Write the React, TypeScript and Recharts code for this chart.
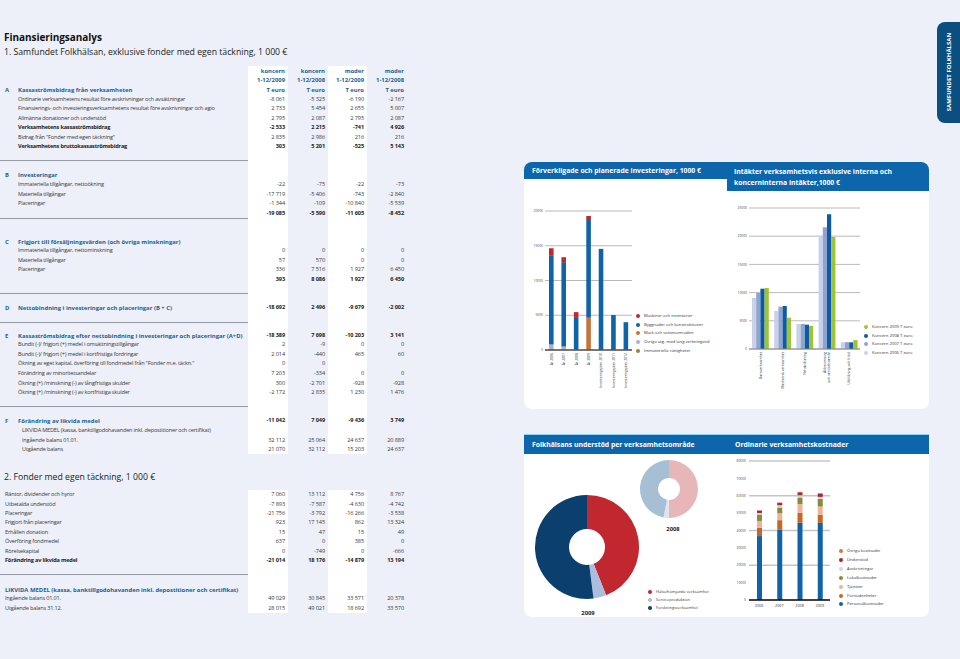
import React from 'react';
import { BarChart, Bar, XAxis, YAxis, CartesianGrid, PieChart, Pie, Cell } from 'recharts';

const BG = '#edf0f8';
const HEAD_BLUE = '#1d5f8f';
const BAR_BLUE = '#0d66ab';
const TAB_BLUE = '#0b4f80';
const TXT = '#3a3a3a';
const FONT = '"Open Sans", "Noto Sans", sans-serif';

// ---------- table data ----------
const colHeads1 = ['koncern', 'koncern', 'moder', 'moder'];
const colHeads2 = ['1-12/2009', '1-12/2008', '1-12/2009', '1-12/2008'];
const colHeads3 = ['T euro', 'T euro', 'T euro', 'T euro'];

const aLabels = [
  'Ordinarie verksamhetens resultat före avskrivningar och avsättningar',
  'Finansierings- och investeringsverksamhetens resultat före avskrivningar och agio',
  'Allmänna donationer och understöd',
  'Verksamhetens kassaströmsbidrag',
  'Bidrag från "Fonder med egen täckning"',
  'Verksamhetens bruttokassaströmsbidrag',
];
const aBold = [false, false, false, true, false, true];
const aValues = [
  ['-8 061', '-5 325', '-6 190', '-2 167'],
  ['2 733', '5 454', '2 655', '5 007'],
  ['2 795', '2 087', '2 795', '2 087'],
  ['-2 533', '2 215', '-741', '4 926'],
  ['2 835', '2 986', '216', '216'],
  ['303', '5 201', '-525', '5 143'],
];

const bLabels = ['Immateriella tillgångar, nettoökning', 'Materiella tillgångar', 'Placeringar', ''];
const bValues = [
  ['-22', '-75', '-22', '-73'],
  ['-17 719', '-5 406', '-743', '-2 840'],
  ['-1 344', '-109', '-10 840', '-5 539'],
  ['-19 085', '-5 590', '-11 605', '-8 452'],
];
const cLabels = ['Immateriella tillgångar, nettominskning', 'Materiella tillgångar', 'Placeringar', ''];
const cValues = [
  ['0', '0', '0', '0'],
  ['57', '570', '0', '0'],
  ['336', '7 516', '1 927', '6 450'],
  ['393', '8 086', '1 927', '6 450'],
];
const dValues = ['-18 692', '2 496', '-9 679', '-2 002'];
const eValues = ['-18 389', '7 698', '-10 203', '3 141'];
const eLabels = [
  'Bundit (-)/ frigjort (+)  medel i omsättningstillgångar',
  'Bundit (-)/ frigjort (+)  medel i kortfristiga fordringar',
  'Ökning av eget kapital, överföring till fondmedel från "Fonder m.e. täckn."',
  'Förändring av minoritetsandelar',
  'Ökning (+)  /minskning (-) av långfristiga skulder',
  'Ökning (+)  /minskning (-) av kortfristiga skulder',
];
const eRows = [
  ['2', '-9', '0', '0'],
  ['2 014', '-440', '465', '60'],
  ['0', '0', '', ''],
  ['7 203', '-334', '0', '0'],
  ['300', '-2 701', '-928', '-928'],
  ['-2 172', '2 835', '1 230', '1 476'],
];
const fValues = ['-11 042', '7 049', '-9 436', '3 749'];
const fLabels = [
  'LIKVIDA MEDEL (kassa, banktillgodohavanden inkl. depostitioner och certifikat)',
  'Ingående balans 01.01.',
  'Utgående balans',
];
const fRows = [
  ['', '', '', ''],
  ['32 112', '25 064', '24 637', '20 889'],
  ['21 070', '32 112', '15 203', '24 637'],
];
const s2Labels = [
  'Räntor,  dividender och hyror',
  'Utbetalda understöd',
  'Placeringar',
  'Frigjort från placeringar',
  'Erhållen donation',
  'Överföring fondmedel',
  'Rörelsekapital',
  'Förändring av likvida medel',
];
const s2Rows = [
  ['7 060', '13 112', '4 756', '8 767'],
  ['-7 893', '-7 587', '-4 630', '-4 742'],
  ['-21 756', '-3 792', '-16 266', '-3 538'],
  ['923', '17 145', '862', '13 324'],
  ['15', '47', '15', '49'],
  ['637', '0', '385', '0'],
  ['0', '-749', '0', '-666'],
  ['-21 014', '18 176', '-14 879', '13 194'],
];
const likLabels = ['Ingående balans 01.01.', 'Utgående balans 31.12.'];
const likRows = [
  ['49 029', '30 845', '33 571', '20 378'],
  ['28 015', '49 021', '18 692', '33 570'],
];

// ---------- chart data ----------
const invCats = ['År 2006', 'År 2007', 'År 2008', 'År 2009', 'Investeringsplan 2010', 'Investeringsplan 2011', 'Investeringsplan 2012'];
const invImmat = [150, 100, 40, 0, 0, 0, 0];
const invOvriga = [650, 400, 0, 0, 0, 0, 0];
const invMark = [0, 0, 0, 4640, 0, 0, 0];
const invBygg = [12840, 12140, 4700, 14210, 14550, 5030, 4000];
const invMaskin = [1000, 710, 710, 430, 0, 0, 0];
const invTicks = [0, 5000, 10000, 15000, 20000];

const incCats = ['Barnverksamhet', 'Medicinsk verksamhet', 'Rehabilitering', 'Äldreomsorg\noch serviceboende', 'Utbildning och fritid'];
const inc2006 = [9040, 6740, 4430, 20090, 1200];
const inc2007 = [9930, 7500, 4430, 21580, 1200];
const inc2008 = [10690, 7620, 4310, 23880, 1180];
const inc2009 = [10820, 5550, 4080, 19860, 1580];
const incTicks = [0, 5000, 10000, 15000, 20000, 25000];

const supNames = ['Hälsofrämjande verksamhet', 'Serviceproduktion', 'Forskningsverksamhet'];
const sup2009 = [44, 4, 52];
const sup2008 = [50, 3, 47];

const costYears = ['2006', '2007', '2008', '2009'];
const costPersonal = [36800, 40600, 44400, 44400];
const costFornod = [4700, 5350, 5750, 4600];
const costTjanster = [4000, 4000, 5000, 4800];
const costLokal = [3700, 3300, 3850, 4400];
const costAvskr = [900, 1300, 1300, 1150];
const costUnderstod = [1300, 1300, 1700, 1900];
const costOvriga = [250, 250, 250, 250];
const costTicks = [0, 10000, 20000, 30000, 40000, 50000, 60000, 70000, 80000];

// ---------- series config ----------
const invSeries = [
  { key: 'immat', name: 'Immateriella rättigheter', color: '#8d8a3c', vals: invImmat },
  { key: 'ovriga', name: 'Övriga utg. med lång verkningstid', color: '#a9b3c9', vals: invOvriga },
  { key: 'mark', name: 'Mark och vattenområden', color: '#c2743a', vals: invMark },
  { key: 'bygg', name: 'Byggnader och konstruktioner', color: '#0f63a6', vals: invBygg },
  { key: 'maskin', name: 'Maskiner och inventarier', color: '#c1272e', vals: invMaskin },
];
const incSeries = [
  { key: 'y2006', name: 'Koncern 2006 T euro', color: '#c8d0ea', vals: inc2006 },
  { key: 'y2007', name: 'Koncern 2007 T euro', color: '#8fa4cf', vals: inc2007 },
  { key: 'y2008', name: 'Koncern 2008 T euro', color: '#0d5aa8', vals: inc2008 },
  { key: 'y2009', name: 'Koncern 2009 T euro', color: '#9dc532', vals: inc2009 },
];
const supColors2009 = ['#c1272e', '#a9bfdd', '#0b3f6e'];
const supColors2008 = ['#e7b6b9', '#dfe5ef', '#a7bfd4'];
const costSeries = [
  { key: 'personal', name: 'Personalkostnader', color: '#0f63a6', vals: costPersonal },
  { key: 'fornod', name: 'Förnödenheter', color: '#c4682a', vals: costFornod },
  { key: 'tjanster', name: 'Tjänster', color: '#efb29c', vals: costTjanster },
  { key: 'lokal', name: 'Lokalkostnader', color: '#8b8a38', vals: costLokal },
  { key: 'avskr', name: 'Avskrivningar', color: '#d0d4ee', vals: costAvskr },
  { key: 'understod', name: 'Understöd', color: '#a8262d', vals: costUnderstod },
  { key: 'ovriga', name: 'Övriga kostnader', color: '#e2733a', vals: costOvriga },
];

const invData = invCats.map((c, i) => {
  const o: any = { cat: c };
  invSeries.forEach((s) => (o[s.key] = s.vals[i]));
  return o;
});
const incData = incCats.map((c, i) => {
  const o: any = { cat: c };
  incSeries.forEach((s) => (o[s.key] = s.vals[i]));
  return o;
});
const costData = costYears.map((c, i) => {
  const o: any = { cat: c };
  costSeries.forEach((s) => (o[s.key] = s.vals[i]));
  return o;
});
const pie2009 = supNames.map((n, i) => ({ name: n, value: sup2009[i] }));
const pie2008 = supNames.map((n, i) => ({ name: n, value: sup2008[i] }));

// ---------- helpers ----------
const COLS = [285, 325, 364, 404];

function Txt(props: { x: number; y: number; s: number; w?: number; c?: string; right?: boolean; center?: boolean; ls?: number; children: React.ReactNode }) {
  const { x, y, s, w = 400, c = TXT, right, center, ls = 0, children } = props;
  const lh = s * 1.4;
  const st: React.CSSProperties = {
    position: 'absolute',
    top: y - lh / 2,
    fontSize: s,
    lineHeight: lh + 'px',
    fontWeight: w,
    color: c,
    whiteSpace: 'nowrap',
    letterSpacing: ls,
  };
  if (right) {
    st.left = x - 100;
    st.width = 100;
    st.textAlign = 'right';
  } else if (center) {
    st.left = x - 50;
    st.width = 100;
    st.textAlign = 'center';
  } else st.left = x;
  return <div style={st}>{children}</div>;
}

const ROW_S = 5.6;
const ROW_LS = -0.2;
const HEAD_S = 5.9;

function ValRow({ y, vals, bold }: { y: number; vals: string[]; bold?: boolean }) {
  return (
    <>
      {vals.map((v, i) => (
        <Txt key={i} x={COLS[i]} y={y} s={ROW_S} ls={-0.1} right w={bold ? 700 : 400} c={bold ? '#222' : TXT}>
          {v}
        </Txt>
      ))}
    </>
  );
}

function Rows({ y0, step, x, labels, values, bold }: { y0: number; step: number; x: number; labels: string[]; values: string[][]; bold?: boolean[] }) {
  return (
    <>
      {labels.map((l, i) => {
        const y = y0 + i * step;
        const b = bold ? bold[i] : false;
        return (
          <React.Fragment key={i}>
            {l && (
              <Txt x={x} y={y} s={ROW_S} ls={ROW_LS} w={b ? 700 : 400} c={b ? '#222' : TXT}>
                {l}
              </Txt>
            )}
            <ValRow y={y} vals={values[i]} bold={b} />
          </React.Fragment>
        );
      })}
    </>
  );
}

function Head({ y, letter, text, x = 18 }: { y: number; letter?: string; text: string; x?: number }) {
  return (
    <>
      {letter && (
        <Txt x={5} y={y} s={HEAD_S} w={700} c={HEAD_BLUE}>
          {letter}
        </Txt>
      )}
      <Txt x={x} y={y} s={HEAD_S} w={700} c={HEAD_BLUE}>
        {text}
      </Txt>
    </>
  );
}

function HLine({ y }: { y: number }) {
  return <div style={{ position: 'absolute', left: 0, top: y, width: 248, height: 1.3, background: '#959ba4' }} />;
}

function Legend({ x, y, step, items, s = 4.2 }: { x: number; y: number; step: number; items: { name: string; color: string }[]; s?: number }) {
  return (
    <>
      {items.map((it, i) => (
        <React.Fragment key={i}>
          <div
            style={{
              position: 'absolute',
              left: x - 2,
              top: y + i * step - 2,
              width: 4,
              height: 4,
              borderRadius: '50%',
              background: it.color,
            }}
          />
          <Txt x={x + 6} y={y + i * step} s={s} c="#333">
            {it.name}
          </Txt>
        </React.Fragment>
      ))}
    </>
  );
}

const makeRotTick = (fs: number) => (props: any) => {
  const { x, y, payload } = props;
  const lines = String(payload.value).split('\n');
  const gap = fs * 1.25;
  const off = ((lines.length - 1) * gap) / 2;
  return (
    <g transform={`translate(${x},${y}) rotate(-90)`}>
      {lines.map((l, i) => (
        <text key={i} x={0} y={-off + i * gap} textAnchor="end" dominantBaseline="central" fontSize={fs} fill="#333" fontFamily={FONT}>
          {l}
        </text>
      ))}
    </g>
  );
};

const yTick = (fs: number) => ({ fontSize: fs, fill: '#444', fontFamily: FONT });

export default function App() {
  return (
    <div
      style={{
        position: 'absolute',
        left: 0,
        top: 0,
        width: 960,
        height: 659,
        background: BG,
        overflow: 'hidden',
        fontFamily: FONT,
      }}
    >
      {/* white column strips */}
      <div style={{ position: 'absolute', left: 248, top: 66, width: 40, height: 388, background: '#fff' }} />
      <div style={{ position: 'absolute', left: 328, top: 66, width: 39, height: 388, background: '#fff' }} />
      <div style={{ position: 'absolute', left: 248, top: 490, width: 40, height: 123, background: '#fff' }} />
      <div style={{ position: 'absolute', left: 328, top: 490, width: 39, height: 123, background: '#fff' }} />

      {/* titles */}
      <Txt x={4} y={37} s={10} w={700} c="#111" ls={-0.05}>
        Finansieringsanalys
      </Txt>
      <Txt x={4} y={52} s={8.7} c="#222">
        1. Samfundet Folkhälsan, exklusive fonder med egen täckning, 1 000 €
      </Txt>

      {/* column headers */}
      {[colHeads1, colHeads2, colHeads3].map((row, r) =>
        row.map((h, i) => (
          <Txt key={r + '-' + i} x={COLS[i]} y={71 + r * 9.5} s={HEAD_S} w={700} c={HEAD_BLUE} right>
            {h}
          </Txt>
        ))
      )}

      {/* A */}
      <Head y={90} letter="A" text="Kassaströmsbidrag från verksamheten" />
      <Rows y0={99.7} step={9.5} x={18} labels={aLabels} values={aValues} bold={aBold} />
      <HLine y={160} />

      {/* B */}
      <Head y={175} letter="B" text="Investeringar" />
      <Rows y0={185} step={9.5} x={18} labels={bLabels} values={bValues} bold={[false, false, false, true]} />
      <HLine y={218} />

      {/* C */}
      <Head y={241.7} letter="C" text="Frigjort till försäljningsvärden (och övriga minskningar)" />
      <Rows y0={251} step={9.5} x={18} labels={cLabels} values={cValues} bold={[false, false, false, true]} />
      <HLine y={293} />

      {/* D */}
      <Head y={307.7} letter="D" text="Nettobindning i investeringar och placeringar (B + C)" />
      <ValRow y={307.7} vals={dValues} bold />
      <HLine y={322} />

      {/* E */}
      <Head y={336} letter="E" text="Kassaströmsbidrag efter nettobindning i investeringar och placeringar (A+D)" />
      <ValRow y={336} vals={eValues} bold />
      <Rows y0={345.3} step={9.55} x={18} labels={eLabels} values={eRows} />
      <HLine y={406} />

      {/* F */}
      <Head y={421} letter="F" text="Förändring av likvida medel" />
      <ValRow y={421} vals={fValues} bold />
      <Rows y0={431} step={9.5} x={22} labels={fLabels} values={fRows} />

      {/* Section 2 */}
      <Txt x={4} y={477} s={8.7} c="#222">
        2. Fonder med egen täckning, 1 000 €
      </Txt>
      <Rows y0={495} step={9.43} x={5} labels={s2Labels} values={s2Rows} bold={[false, false, false, false, false, false, false, true]} />
      <HLine y={574} />
      <Head y={589.7} text="LIKVIDA MEDEL (kassa, banktillgodohavanden inkl. depostitioner och certifikat)" x={5} />
      <Rows y0={599.2} step={9.5} x={5} labels={likLabels} values={likRows} />

      {/* right tab */}
      <div
        style={{
          position: 'absolute',
          left: 937,
          top: 22,
          width: 26,
          height: 101,
          background: TAB_BLUE,
          borderRadius: '8px 0 0 8px',
        }}
      />
      <div
        style={{
          position: 'absolute',
          left: 948.5 - 50,
          top: 72 - 5,
          width: 100,
          height: 10,
          lineHeight: '10px',
          textAlign: 'center',
          color: '#fff',
          fontSize: 6,
          fontWeight: 700,
          transform: 'rotate(-90deg)',
          whiteSpace: 'nowrap',
        }}
      >
        SAMFUNDET FOLKHÄLSAN
      </div>

      {/* top panels */}
      <div style={{ position: 'absolute', left: 524, top: 179, width: 405, height: 230, background: '#fff', borderRadius: '0 0 8px 8px' }} />
      <div style={{ position: 'absolute', left: 524, top: 162, width: 405, height: 17, background: BAR_BLUE, borderRadius: '8px 8px 0 0' }} />
      <div style={{ position: 'absolute', left: 727, top: 170, width: 202, height: 21, background: BAR_BLUE }} />
      <Txt x={532} y={170.5} s={6.8} w={700} c="#fff">
        Förverkligade och planerade investeringar, 1000 €
      </Txt>
      <Txt x={734} y={172} s={6.8} w={700} c="#fff">
        Intäkter verksamhetsvis exklusive interna och
      </Txt>
      <Txt x={734} y={183} s={6.8} w={700} c="#fff">
        koncerninterna intäkter,1000 €
      </Txt>

      {/* bottom panels */}
      <div style={{ position: 'absolute', left: 524, top: 453, width: 405, height: 164, background: '#fff', borderRadius: '0 0 8px 8px' }} />
      <div style={{ position: 'absolute', left: 524, top: 434, width: 405, height: 19, background: BAR_BLUE, borderTop: '1px solid #8fd3f0' }} />
      <Txt x={532} y={444.5} s={6.8} w={700} c="#fff">
        Folkhälsans understöd per verksamhetsområde
      </Txt>
      <Txt x={735} y={444.5} s={6.8} w={700} c="#fff">
        Ordinarie verksamhetskostnader
      </Txt>

      {/* Chart 1: investments */}
      <div style={{ position: 'absolute', left: 520, top: 195 }}>
        <BarChart width={125} height={230} data={invData} margin={{ top: 16, right: 13, left: 0, bottom: 0 }}>
          <CartesianGrid vertical={false} stroke="#a8a8a8" strokeWidth={0.8} />
          <XAxis
            dataKey="cat"
            interval={0}
            height={75}
            tickLine={false}
            tickSize={0}
            tickMargin={3}
            axisLine={{ stroke: '#555', strokeWidth: 1.5 }}
            tick={makeRotTick(3.4)}
          />
          <YAxis
            width={25}
            domain={[0, 20000]}
            ticks={invTicks}
            axisLine={false}
            tickLine={false}
            tickSize={0}
            tickMargin={2}
            tick={yTick(3.3)}
          />
          {invSeries.map((s) => (
            <Bar key={s.key} dataKey={s.key} name={s.name} stackId="a" fill={s.color} barSize={4.6} isAnimationActive={false} />
          ))}
        </BarChart>
      </div>
      <Legend x={638} y={316} step={8.7} items={[...invSeries].reverse()} />

      {/* Chart 2: income */}
      <div style={{ position: 'absolute', left: 725, top: 192 }}>
        <BarChart width={145} height={217} data={incData} margin={{ top: 16, right: 10, left: 0, bottom: 0 }} barGap={0}>
          <CartesianGrid vertical={false} stroke="#a8a8a8" strokeWidth={0.8} />
          <XAxis
            dataKey="cat"
            interval={0}
            height={60}
            tickLine={false}
            tickSize={0}
            tickMargin={3}
            axisLine={{ stroke: '#888', strokeWidth: 1 }}
            tick={makeRotTick(3.5)}
          />
          <YAxis
            width={24}
            domain={[0, 25000]}
            ticks={incTicks}
            axisLine={false}
            tickLine={false}
            tickSize={0}
            tickMargin={2}
            tick={yTick(3.3)}
          />
          {incSeries.map((s) => (
            <Bar key={s.key} dataKey={s.key} name={s.name} fill={s.color} barSize={4.2} isAnimationActive={false} />
          ))}
        </BarChart>
      </div>
      <Legend x={866} y={327} step={8.5} items={[...incSeries].reverse()} />

      {/* Chart 3: donuts */}
      <div style={{ position: 'absolute', left: 524, top: 453 }}>
        <PieChart width={205} height={164} margin={{ top: 0, right: 0, bottom: 0, left: 0 }}>
          <Pie
            data={pie2009}
            dataKey="value"
            cx={63}
            cy={94}
            innerRadius={18}
            outerRadius={52}
            startAngle={90}
            endAngle={-270}
            stroke="none"
            isAnimationActive={false}
          >
            {pie2009.map((d, i) => (
              <Cell key={i} fill={supColors2009[i]} />
            ))}
          </Pie>
          <Pie
            data={pie2008}
            dataKey="value"
            cx={145}
            cy={36}
            innerRadius={11}
            outerRadius={29}
            startAngle={90}
            endAngle={-270}
            stroke="none"
            isAnimationActive={false}
          >
            {pie2008.map((d, i) => (
              <Cell key={i} fill={supColors2008[i]} />
            ))}
          </Pie>
        </PieChart>
      </div>
      <Txt x={673} y={529} s={5.8} w={700} c="#222" center>
        2008
      </Txt>
      <Txt x={588} y={613} s={5.8} w={700} c="#222" center>
        2009
      </Txt>
      <Legend x={650} y={592} step={8} s={4} items={supNames.map((n, i) => ({ name: n, color: supColors2009[i] }))} />

      {/* Chart 4: costs */}
      <div style={{ position: 'absolute', left: 722, top: 445 }}>
        <BarChart width={116} height={167} data={costData} margin={{ top: 16, right: 8, left: 0, bottom: 0 }}>
          <CartesianGrid vertical={false} stroke="#c6c6c6" strokeWidth={1.3} />
          <XAxis
            dataKey="cat"
            interval={0}
            height={12}
            tickLine={false}
            tickSize={0}
            tickMargin={4}
            axisLine={{ stroke: '#111', strokeWidth: 1.5 }}
            tick={{ fontSize: 3.8, fill: '#333', fontFamily: FONT }}
          />
          <YAxis
            width={27}
            domain={[0, 80000]}
            ticks={costTicks}
            axisLine={false}
            tickLine={false}
            tickSize={0}
            tickMargin={3}
            tick={yTick(3.3)}
          />
          {costSeries.map((s) => (
            <Bar key={s.key} dataKey={s.key} name={s.name} stackId="c" fill={s.color} barSize={5} isAnimationActive={false} />
          ))}
        </BarChart>
      </div>
      <Legend x={841} y={551} step={8.9} items={[...costSeries].reverse()} />
    </div>
  );
}
